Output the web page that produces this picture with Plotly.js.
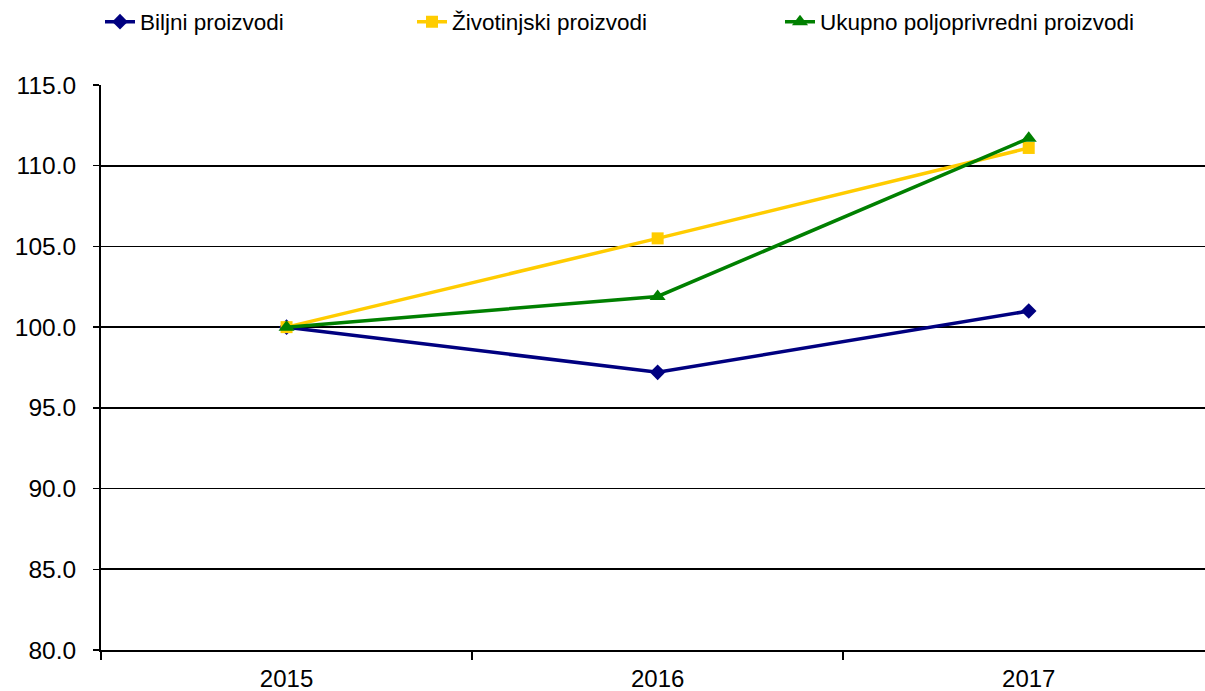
<!DOCTYPE html>
<html>
<head>
<meta charset="utf-8">
<script src="https://cdn.plot.ly/plotly-3.0.1.min.js"></script>
<style>
html,body{margin:0;padding:0;background:#fff;}
#chart{width:1205px;height:691px;}
</style>
</head>
<body>
<div id="chart"></div>
<script>
const years = ['2015', '2016', '2017'];
const biljni = [100.0, 97.2, 101.0];
const zivotinjski = [100.0, 105.5, 111.1];
const ukupno = [100.0, 101.9, 111.7];
const seriesNames = ['Biljni proizvodi', 'Životinjski proizvodi', 'Ukupno poljoprivredni proizvodi'];
const yTicks = [80, 85, 90, 95, 100, 105, 110, 115];

const FONT = '"Liberation Sans", Arial, sans-serif';

const traces = [
  {x: years, y: biljni, name: seriesNames[0], type: 'scatter', mode: 'lines+markers',
   line: {color: '#000080', width: 3.5}, marker: {symbol: 'diamond', size: 12, color: '#000080'}, legend: 'legend'},
  {x: years, y: zivotinjski, name: seriesNames[1], type: 'scatter', mode: 'lines+markers',
   line: {color: '#FFCC00', width: 3.5}, marker: {symbol: 'square', size: 12, color: '#FFCC00'}, legend: 'legend2'},
  {x: years, y: ukupno, name: seriesNames[2], type: 'scatter', mode: 'lines+markers',
   line: {color: '#008000', width: 3.5}, marker: {symbol: 'triangle-up', size: 14, color: '#008000'}, legend: 'legend3'}
];

const W = 1104, H = 565;
function px(v){ return (v - 101) / W; }
const legY = (650 - 22) / H;
function leg(xpx){
  return {x: px(xpx), y: legY, xanchor: 'left', yanchor: 'middle', orientation: 'h',
    font: {family: FONT, size: 22.5, color: '#000'}, bgcolor: 'rgba(0,0,0,0)', borderwidth: 0, itemwidth: 30};
}

const layout = {
  width: 1205, height: 691,
  margin: {l: 101, r: 0, t: 85, b: 41},
  paper_bgcolor: '#fff', plot_bgcolor: '#fff',
  font: {family: FONT, color: '#000'},
  showlegend: true,
  legend: leg(100),
  legend2: leg(412),
  legend3: leg(780),
  xaxis: {
    type: 'category', range: [-0.5, 2.475],
    showline: true, linecolor: '#000', linewidth: 2,
    showgrid: false, ticks: 'outside', tickson: 'boundaries', ticklen: 8, tickwidth: 1.5, tickcolor: '#000',
    tickfont: {family: FONT, size: 24, color: '#000'}, ticklabelstandoff: 6,
    zeroline: false, fixedrange: true
  },
  yaxis: {
    range: [80, 115], tickvals: yTicks, ticktext: yTicks.map(v => v.toFixed(1)),
    showline: true, linecolor: '#000', linewidth: 2,
    showgrid: true, gridcolor: '#000', gridwidth: 1.8,
    ticks: 'outside', ticklen: 6, tickwidth: 1.5, tickcolor: '#000',
    tickfont: {family: FONT, size: 24.5, color: '#000'}, ticklabelstandoff: 12,
    zeroline: false, fixedrange: true
  }
};

Plotly.newPlot('chart', traces, layout, {displayModeBar: false, staticPlot: true});
</script>
</body>
</html>
